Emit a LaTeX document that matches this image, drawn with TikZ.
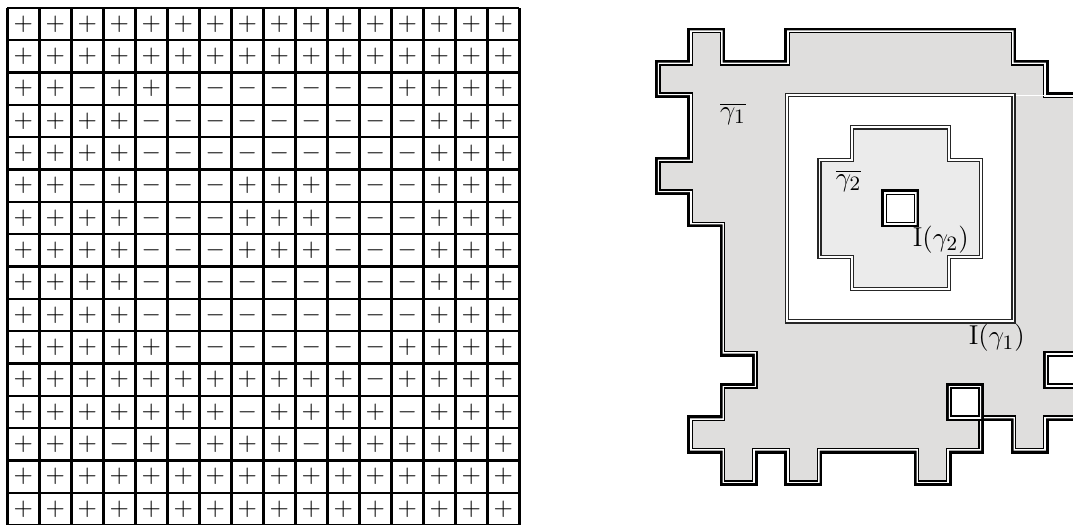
\documentclass[tikz,border=0pt]{standalone}
\definecolor{outerfill}{RGB}{223,222,221}
\definecolor{innerfill}{RGB}{235,235,235}
% closed contour: thick black outside, thin black inside, white gap between
\newcommand{\thickcontour}[2][white]{%
  \fill[#1] #2;
  \draw[line width=2.5pt] #2;
  \begin{scope}
    \clip #2;
    \draw[white,line width=1.3pt] #2;
  \end{scope}}

\begin{document}
\begin{tikzpicture}[x=0.5cm,y=0.5cm,
  every node/.style={font=\fontsize{13}{15}\selectfont},
  gridline/.style={line width=1.1pt},
  sign/.style={font=\fontsize{11.3}{13}\selectfont,inner sep=0pt},
  thinframe/.style={black!85,line width=0.55pt,double=white,double distance=0.8pt}]
\useasboundingbox (0,0) rectangle (33.19,16.21);

% spin configuration
\begin{scope}[shift={(0.226,-0.035)},xscale=0.99]
\draw[gridline] (0,0) grid[step=1] (16,16);
\foreach \signrow [count=\r] in {
  {+,+,+,+,+,+,+,+,+,+,+,+,+,+,+,+},
  {+,+,+,+,+,+,+,+,+,+,+,+,+,+,+,+},
  {+,+,-,+,+,-,-,-,-,-,-,-,+,+,+,+},
  {+,+,+,+,-,-,-,-,-,-,-,-,-,+,+,+},
  {+,+,+,+,-,-,-,-,-,-,-,-,-,+,+,+},
  {+,+,-,+,-,-,-,+,+,+,-,-,-,+,+,+},
  {+,+,+,+,-,-,-,+,+,+,-,-,-,+,+,+},
  {+,+,+,+,-,-,-,+,+,+,-,-,-,+,+,+},
  {+,+,+,+,-,-,-,-,-,-,-,-,-,+,+,+},
  {+,+,+,+,-,-,-,-,-,-,-,-,-,+,+,+},
  {+,+,+,+,+,-,-,-,-,-,-,-,+,+,+,+},
  {+,+,+,+,+,+,+,+,+,+,+,-,+,+,+,+},
  {+,+,+,+,+,+,+,-,+,+,+,+,-,+,+,+},
  {+,+,+,-,+,-,+,+,+,-,+,+,+,+,+,+},
  {+,+,+,+,+,+,+,+,+,+,+,+,+,+,+,+},
  {+,+,+,+,+,+,+,+,+,+,+,+,+,+,+,+}}
  \foreach \s [count=\c] in \signrow
    \node[sign] (s\r-\c) at (\c-0.5,16.5-\r) {$\s$};
\end{scope}

% contours
\begin{scope}[shift={(20.35,15.27)},yscale=-1]
\thickcontour[outerfill]{(1,0) -- (2,0) -- (2,1) -- (4,1) -- (4,0) -- (11,0) -- (11,1)
  -- (12,1) -- (12,2) -- (14,2) -- (14,12) -- (12,12) -- (12,13) -- (11,13) -- (11,12)
  -- (10,12) -- (10,13) -- (9,13) -- (9,14) -- (8,14) -- (8,13) -- (5,13) -- (5,14)
  -- (4,14) -- (4,13) -- (3,13) -- (3,14) -- (2,14) -- (2,13) -- (1,13) -- (1,12)
  -- (2,12) -- (2,11) -- (3,11) -- (3,10) -- (2,10) -- (2,6) -- (1,6) -- (1,5)
  -- (0,5) -- (0,4) -- (1,4) -- (1,2) -- (0,2) -- (0,1) -- (1,1) -- cycle}
\fill[white] (4,2) rectangle (11,9);
\draw[white,line width=0.45pt] (11,2) -- (12,2);
\fill[innerfill] (6,3) -- (9,3) -- (9,4) -- (10,4) -- (10,7) -- (9,7) -- (9,8)
  -- (6,8) -- (6,7) -- (5,7) -- (5,4) -- (6,4) -- cycle;
\thickcontour{(7,5) rectangle (8,6)}
\thickcontour{(9,11) rectangle (10,12)}
\thickcontour{(12,10) rectangle (13,11)}
\draw[thinframe] (4,2) rectangle (11,9);
\draw[thinframe] (6,3) -- (9,3) -- (9,4) -- (10,4) -- (10,7) -- (9,7) -- (9,8)
  -- (6,8) -- (6,7) -- (5,7) -- (5,4) -- (6,4) -- cycle;

\node (gammaonebar) at (2.32,2.59) {$\overline{\gamma_1}$};
\node (gammatwobar) at (5.9,4.66) {$\overline{\gamma_2}$};
\node (interiortwo) at (8.75,6.46) {$\mathrm{I}(\gamma_2)$};
\node (interiorone) at (10.48,9.52) {$\mathrm{I}(\gamma_1)$};
\end{scope}
\end{tikzpicture}
\end{document}
